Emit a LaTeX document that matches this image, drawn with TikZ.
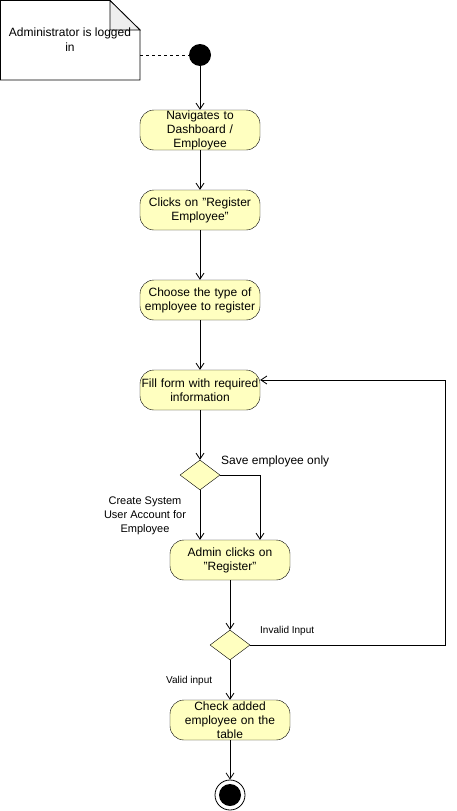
\documentclass[tikz,border=0pt]{standalone}
\usepackage{fontspec}
\setmainfont{Liberation Sans}
\usetikzlibrary{arrows.meta,shapes.geometric}
\definecolor{actfill}{HTML}{FFFFC0}
\definecolor{foldfill}{HTML}{EEEEEE}
\newcommand{\qq}{\char34\relax}
\tikzset{
  act/.style={draw=black, fill=actfill, rounded corners=14pt, minimum width=120pt, minimum height=40pt,
    inner sep=0pt, align=center, text width=118pt, font=\fontsize{12}{14}\selectfont},
  dec/.style={draw=black, fill=actfill, diamond, minimum width=40pt, minimum height=30pt, inner sep=0pt, aspect=1.333},
  flow/.style={draw=black, line width=0.8pt, -{Straight Barb[length=6pt,width=8pt]}},
  lbl/.style={font=\fontsize{10}{14}\selectfont, inner sep=0pt, align=center},
}
\begin{document}
\begin{tikzpicture}[x=1pt,y=-1pt]
\useasboundingbox (0,0) rectangle (456,811);
% note
\draw[black, line width=0.8pt, fill=white] (0.5,0.5) -- (110,0.5) -- (140,30) -- (140,80) -- (0.5,80) -- cycle;
\draw[black, line width=0.8pt, fill=foldfill] (110,0.5) -- (110,30) -- (140,30) -- cycle;
\node[inner sep=0pt, minimum width=140pt, minimum height=80pt] (note) at (70,40) {};
\node[inner sep=0pt, align=center, font=\fontsize{12}{15}\selectfont] (notetext) at (70,40) {Administrator is logged\\in};
% start
\node[circle, fill=black, minimum size=22pt, inner sep=0pt] (start) at (200,55) {};
\draw[dashed, line width=0.8pt] (note.east |- start) -- (start);
% activities
\node[act] (a1) at (200,130) {Navigates to\\Dashboard /\\Employee};
\node[act] (a2) at (200,210) {Clicks on \qq Register\\Employee\qq};
\node[act] (a3) at (200,300) {Choose the type of\\employee to register};
\node[act] (a4) at (200,390) {Fill form with required\\information};
\node[dec] (d1) at (200,475) {};
\node[act] (a5) at (230,560) {Admin clicks on\\\qq Register\qq};
\node[dec] (d2) at (230,645) {};
\node[act] (a6) at (230,720) {Check added\\employee on the\\table};
\node[circle, draw=black, line width=0.8pt, minimum size=30pt, inner sep=0pt] (end) at (230,795) {};
\node[circle, fill=black, minimum size=22pt, inner sep=0pt] (endin) at (230,795) {};
\coordinate (c1) at (260,475);
\coordinate (c2) at (445,645);
\coordinate (c3) at (445,380);
% flows
\draw[flow] (start) -- (a1);
\draw[flow] (a1) -- (a2);
\draw[flow] (a2) -- (a3);
\draw[flow] (a3) -- (a4);
\draw[flow] (a4) -- (d1);
\draw[flow] (d1) -- (d1 |- a5.north);
\draw[flow] (d1.east) -- (c1) -- (c1 |- a5.north);
\draw[flow] (a5) -- (d2);
\draw[flow] (d2.east) -- (c2) -- (c3) -- (a4.east |- c3);
\draw[flow] (d2) -- (a6);
\draw[flow] (a6) -- (end);
% labels
\node[lbl, anchor=west, font=\fontsize{12}{14}\selectfont] (l1) at (221,461) {Save employee only};
\node[lbl, font=\fontsize{11}{14}\selectfont] (l2) at (145,516) {Create System\\User Account for\\Employee};
\node[lbl, anchor=west] (l3) at (260,631) {Invalid Input};
\node[lbl, anchor=west] (l4) at (166,681) {Valid input};
\end{tikzpicture}
\end{document}
